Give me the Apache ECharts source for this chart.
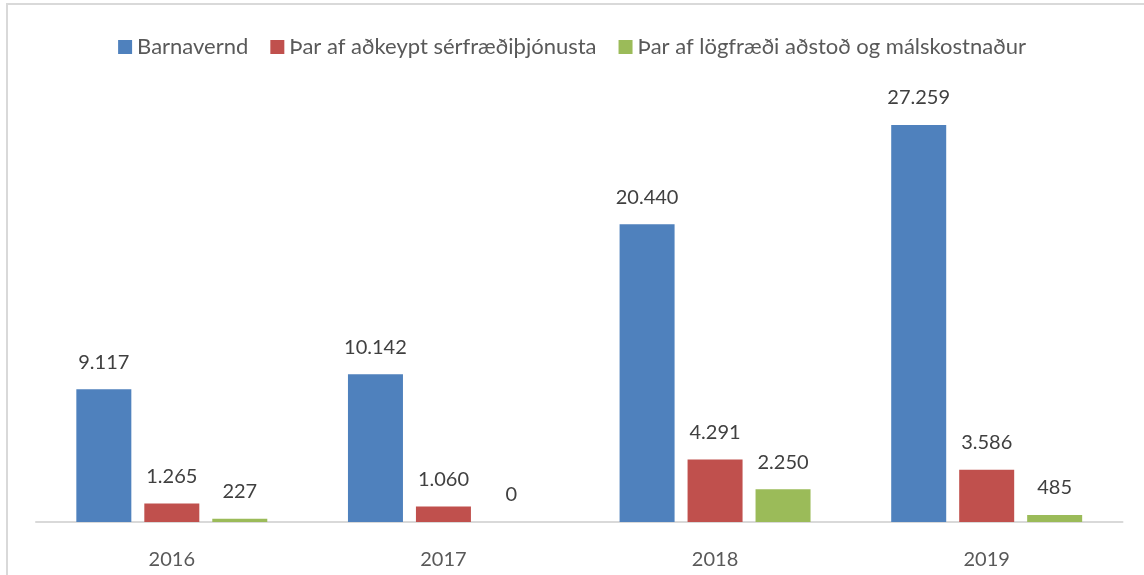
<!DOCTYPE html>
<html>
<head>
<meta charset="utf-8">
<script src="https://cdn.jsdelivr.net/npm/echarts@6/dist/echarts.min.js"></script>
<style>html,body{margin:0;padding:0;background:#fff;}#c{width:1144px;height:575px;}</style>
</head>
<body>
<div id="c"></div>
<script>
const categories = ['2016', '2017', '2018', '2019'];
const seriesNames = ['Barnavernd', 'Þar af aðkeypt sérfræðiþjónusta', 'Þar af lögfræði aðstoð og málskostnaður'];
const barnavernd = [9117, 10142, 20440, 27259];
const sersfraedi = [1265, 1060, 4291, 3586];
const logfraedi = [227, 0, 2250, 485];
const colors = ['#4f81bd', '#c0504d', '#9bbb59'];

function fmt(v) {
  return String(v).replace(/\B(?=(\d{3})+(?!\d))/g, '.');
}

const chart = echarts.init(document.getElementById('c'), null, {renderer: 'canvas'});
const font = 'Lato, "Noto Sans", sans-serif';
const label = {
  show: true, position: 'top', distance: 17,
  color: '#404040', fontSize: 20, fontFamily: font,
  formatter: p => fmt(p.value)
};
const datas = [barnavernd, sersfraedi, logfraedi];
chart.setOption({
  animation: false,
  textStyle: {fontFamily: font},
  graphic: [{
    type: 'rect', shape: {x: 7, y: 4, width: 1200, height: 700},
    style: {fill: 'none', stroke: '#d9d9d9', lineWidth: 2}, silent: true
  }],
  legend: {
    top: 31, left: 'center', itemWidth: 14, itemHeight: 14, itemGap: 22,
    icon: 'rect',
    textStyle: {color: '#595959', fontSize: 22, fontFamily: font},
    data: seriesNames
  },
  grid: {left: 36, right: 21.5, top: 85, bottom: 53, containLabel: false},
  xAxis: {
    type: 'category', data: categories,
    axisLine: {lineStyle: {color: '#d9d9d9', width: 2}},
    axisTick: {show: false},
    axisLabel: {color: '#595959', fontSize: 20, fontFamily: font, margin: 28}
  },
  yAxis: {type: 'value', min: 0, max: 30000, show: false, splitLine: {show: false}},
  series: seriesNames.map((n, i) => ({
    name: n, type: 'bar', data: datas[i], barWidth: 55, barGap: '23.6%',
    itemStyle: {color: colors[i]}, label: label
  }))
});
</script>
</body>
</html>
